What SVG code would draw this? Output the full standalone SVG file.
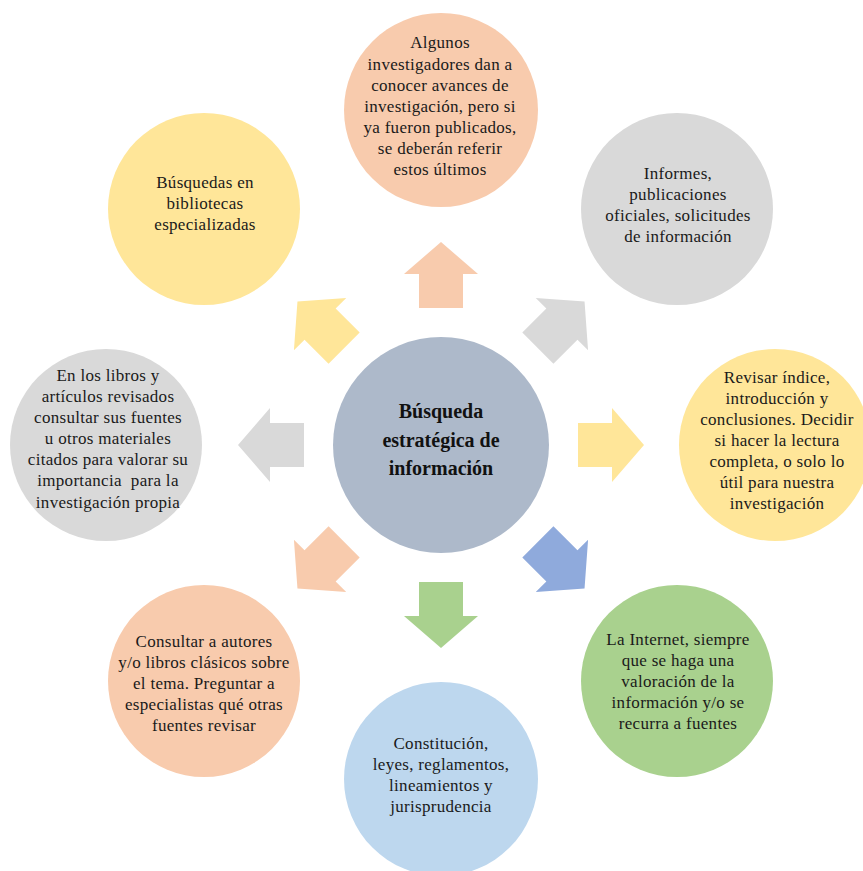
<svg xmlns="http://www.w3.org/2000/svg" xmlns:xlink="http://www.w3.org/1999/xlink" width="863" height="871" viewBox="0 0 863 871">
<defs>
<path id="arw" d="M137,-22 H171 V-37 L203,0 L171,37 V22 H137 Z"/>
<style>
.t{font-family:"Liberation Serif","Times New Roman",serif;font-size:17px;fill:#1a1a1a;text-anchor:middle;letter-spacing:0.3px}
.c{font-family:"Liberation Serif","Times New Roman",serif;font-size:20px;font-weight:bold;fill:#111;text-anchor:middle}
.peach{fill:#F8CBAD}.gray{fill:#D9D9D9}.yel{fill:#FFE699}.grn{fill:#A9D18E}.lblue{fill:#BDD7EE}.blue{fill:#8FAADC}.ctr{fill:#ADB9CA}
</style>
</defs>
<rect width="863" height="871" fill="#fff"/>
<g id="connectors">
<use xlink:href="#arw" class="peach" transform="translate(441,445) rotate(-90)"/>
<use xlink:href="#arw" class="gray" transform="translate(441,445) rotate(-45)"/>
<use xlink:href="#arw" class="yel" transform="translate(441,445) rotate(0)"/>
<use xlink:href="#arw" class="blue" transform="translate(441,445) rotate(45)"/>
<use xlink:href="#arw" class="grn" transform="translate(441,445) rotate(90)"/>
<use xlink:href="#arw" class="peach" transform="translate(441,445) rotate(135)"/>
<use xlink:href="#arw" class="gray" transform="translate(441,445) rotate(180)"/>
<use xlink:href="#arw" class="yel" transform="translate(441,445) rotate(-135)"/>
</g>
<g id="center">
<circle cx="441" cy="445" r="108" class="ctr"/>
<text class="c"><tspan x="441" y="418">Búsqueda</tspan><tspan x="441" y="447">estratégica de</tspan><tspan x="441" y="475">información</tspan></text>
</g>
<g id="n-top">
<circle cx="441" cy="110" r="97" class="peach"/>
<text class="t"><tspan x="440" y="48">Algunos</tspan><tspan x="440" y="70">investigadores dan a</tspan><tspan x="440" y="91">conocer avances de</tspan><tspan x="440" y="112">investigación, pero si</tspan><tspan x="440" y="133">ya fueron publicados,</tspan><tspan x="440" y="154">se deberán referir</tspan><tspan x="440" y="175">estos últimos</tspan></text>
</g>
<g id="n-topright">
<circle cx="677" cy="209" r="96" class="gray"/>
<text class="t"><tspan x="678" y="179">Informes,</tspan><tspan x="678" y="200">publicaciones</tspan><tspan x="678" y="221">oficiales, solicitudes</tspan><tspan x="678" y="242">de información</tspan></text>
</g>
<g id="n-right">
<circle cx="775" cy="445" r="96" class="yel"/>
<text class="t"><tspan x="777" y="383">Revisar índice,</tspan><tspan x="777" y="404">introducción y</tspan><tspan x="777" y="425">conclusiones. Decidir</tspan><tspan x="777" y="446">si hacer la lectura</tspan><tspan x="777" y="467">completa, o solo lo</tspan><tspan x="777" y="488">útil para nuestra</tspan><tspan x="777" y="509">investigación</tspan></text>
</g>
<g id="n-bottomright">
<circle cx="677" cy="681" r="96" class="grn"/>
<text class="t"><tspan x="678" y="645">La Internet, siempre</tspan><tspan x="678" y="666">que se haga una</tspan><tspan x="678" y="687">valoración de la</tspan><tspan x="678" y="708">información y/o se</tspan><tspan x="678" y="729">recurra a fuentes</tspan></text>
</g>
<g id="n-bottom">
<circle cx="441" cy="779" r="97" class="lblue"/>
<text class="t"><tspan x="441" y="749">Constitución,</tspan><tspan x="441" y="770">leyes, reglamentos,</tspan><tspan x="441" y="791">lineamientos y</tspan><tspan x="441" y="812">jurisprudencia</tspan></text>
</g>
<g id="n-bottomleft">
<circle cx="204" cy="681" r="96" class="peach"/>
<text class="t"><tspan x="204" y="647">Consultar a autores</tspan><tspan x="204" y="668">y/o libros clásicos sobre</tspan><tspan x="204" y="689">el tema. Preguntar a</tspan><tspan x="204" y="710">especialistas qué otras</tspan><tspan x="204" y="731">fuentes revisar</tspan></text>
</g>
<g id="n-left">
<circle cx="106" cy="445" r="96" class="gray"/>
<text class="t"><tspan x="108" y="381">En los libros y</tspan><tspan x="108" y="402">artículos revisados</tspan><tspan x="108" y="423">consultar sus fuentes</tspan><tspan x="108" y="444">u otros materiales</tspan><tspan x="108" y="465">citados para valorar su</tspan><tspan x="108" y="486">importancia &#160;para la</tspan><tspan x="108" y="508">investigación propia</tspan></text>
</g>
<g id="n-topleft">
<circle cx="204" cy="209" r="96" class="yel"/>
<text class="t"><tspan x="205" y="188">Búsquedas en</tspan><tspan x="205" y="209">bibliotecas</tspan><tspan x="205" y="230">especializadas</tspan></text>
</g>
</svg>
